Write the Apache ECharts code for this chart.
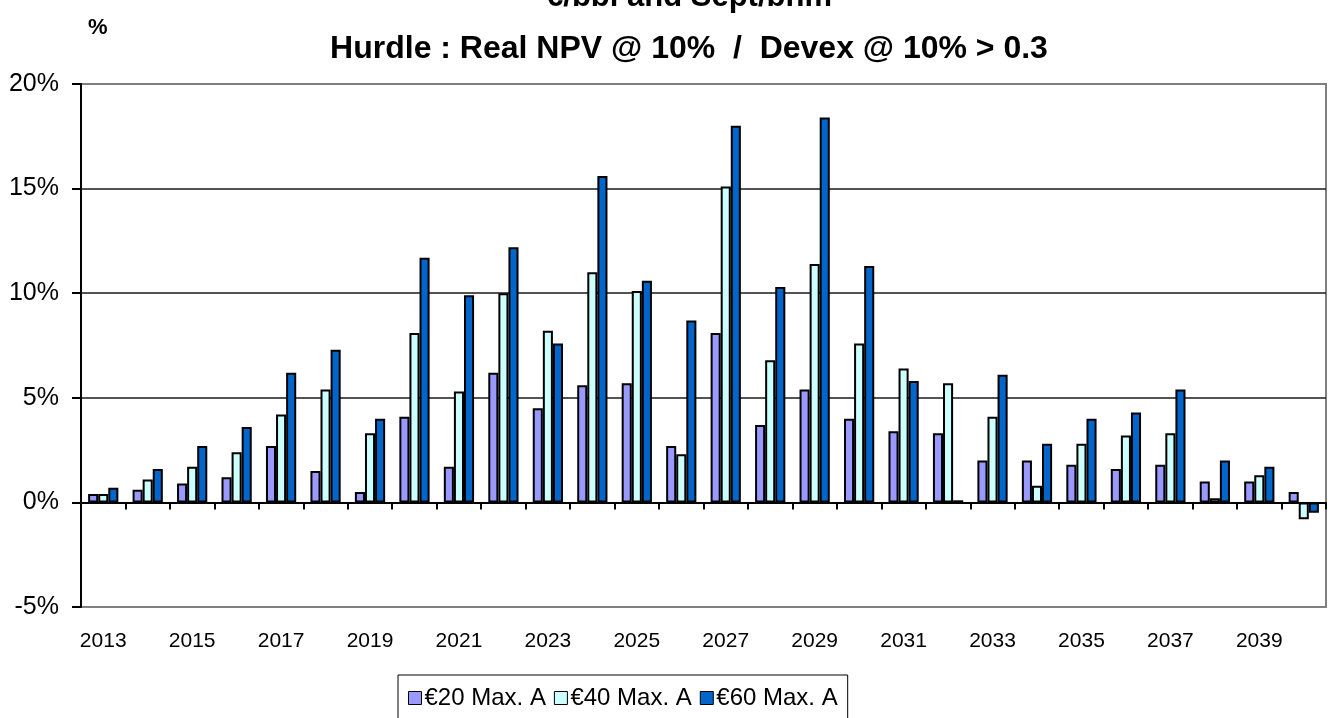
<!DOCTYPE html>
<html>
<head>
<meta charset="utf-8">
<script src="https://cdn.jsdelivr.net/npm/echarts@6/dist/echarts.min.js"></script>
<style>
  html, body { margin: 0; padding: 0; background: #fff; }
  #chart { width: 1336px; height: 718px; }
</style>
</head>
<body>
<div id="chart"></div>
<script>
// years on the category axis
var years = ['2013', '2014', '2015', '2016', '2017', '2018', '2019', '2020', '2021', '2022',
  '2023', '2024', '2025', '2026', '2027', '2028', '2029', '2030', '2031', '2032',
  '2033', '2034', '2035', '2036', '2037', '2038', '2039', '2040'];

// values in %
var eur20 = [0.4, 0.6, 0.9, 1.2, 2.7, 1.5, 0.5, 4.1, 1.7, 6.2,
  4.5, 5.6, 5.7, 2.7, 8.1, 3.7, 5.4, 4.0, 3.4, 3.3,
  2.0, 2.0, 1.8, 1.6, 1.8, 1.0, 1.0, 0.5];
var eur40 = [0.4, 1.1, 1.7, 2.4, 4.2, 5.4, 3.3, 8.1, 5.3, 10.0,
  8.2, 11.0, 10.1, 2.3, 15.1, 6.8, 11.4, 7.6, 6.4, 5.7,
  4.1, 0.8, 2.8, 3.2, 3.3, 0.2, 1.3, -0.8];
var eur60 = [0.7, 1.6, 2.7, 3.6, 6.2, 7.3, 4.0, 11.7, 9.9, 12.2,
  7.6, 15.6, 10.6, 8.7, 18.0, 10.3, 18.4, 11.3, 5.8, 0.1,
  6.1, 2.8, 4.0, 4.3, 5.4, 2.0, 1.7, -0.5];

var seriesNames = ['€20 Max. A', '€40 Max. A', '€60 Max. A'];
var colors = ['#9999FF', '#CCFFFF', '#0066CC'];

var chart = echarts.init(document.getElementById('chart'));

function bar(name, data, color) {
  return {
    name: name,
    type: 'bar',
    xAxisIndex: 0,
    data: data,
    barGap: '0%',
    barCategoryGap: '32%',
    itemStyle: { color: color, borderColor: '#000', borderWidth: 2 }
  };
}

var option = {
  animation: false,
  textStyle: { fontFamily: 'Arial, "Liberation Sans", sans-serif', color: '#000' },
  title: [
    {
      text: '€/bbl and Sept/bnm',
      left: 684, top: -23, textAlign: 'center',
      textStyle: { fontSize: 31, fontWeight: 'bold', color: '#000' }
    },
    {
      text: 'Hurdle : Real NPV @ 10%  /  Devex @ 10% > 0.3',
      left: 684, top: 28, textAlign: 'center',
      textStyle: { fontSize: 32, fontWeight: 'bold', color: '#000' }
    },
    {
      text: '%',
      left: 83, top: 12,
      textStyle: { fontSize: 22, fontWeight: 'bold', color: '#000' }
    }
  ],
  legend: {
    data: seriesNames,
    left: 398, top: 675,
    orient: 'horizontal',
    itemWidth: 13, itemHeight: 13, itemGap: 8,
    padding: [11, 10, 30, 10],
    borderColor: '#000', borderWidth: 1,
    icon: 'rect',
    itemStyle: { borderColor: '#000', borderWidth: 1 },
    textStyle: { fontSize: 24, color: '#000', padding: [0, 0, 0, -2] }
  },
  grid: {
    left: 81, top: 84, width: 1245, height: 523,
    show: true, borderColor: '#808080', borderWidth: 2, backgroundColor: '#fff'
  },
  xAxis: [
    {
      type: 'category',
      data: years,
      position: 'bottom',
      axisLine: { onZero: true, lineStyle: { color: '#000', width: 2 } },
      axisTick: { show: true, interval: 0, alignWithLabel: false, length: 7, lineStyle: { color: '#000', width: 2 } },
      axisLabel: { show: false },
      splitLine: { show: false }
    },
    {
      type: 'category',
      data: years,
      position: 'bottom',
      axisLine: { show: false, onZero: false },
      axisTick: { show: false },
      axisLabel: { show: true, interval: 1, fontSize: 21, color: '#000', margin: 24 },
      splitLine: { show: false }
    }
  ],
  yAxis: {
    type: 'value',
    min: -5, max: 20, interval: 5,
    axisLine: { show: true, lineStyle: { color: '#000', width: 2 } },
    axisTick: { show: true, length: 9, lineStyle: { color: '#000', width: 2 } },
    axisLabel: { formatter: '{value}%', fontSize: 25, color: '#000', margin: 22 },
    splitLine: { show: true, showMinLine: false, showMaxLine: false, lineStyle: { color: '#1a1a1a', width: 1.5 } }
  },
  series: [
    bar(seriesNames[0], eur20, colors[0]),
    bar(seriesNames[1], eur40, colors[1]),
    bar(seriesNames[2], eur60, colors[2])
  ]
};

chart.setOption(option);
</script>
</body>
</html>
